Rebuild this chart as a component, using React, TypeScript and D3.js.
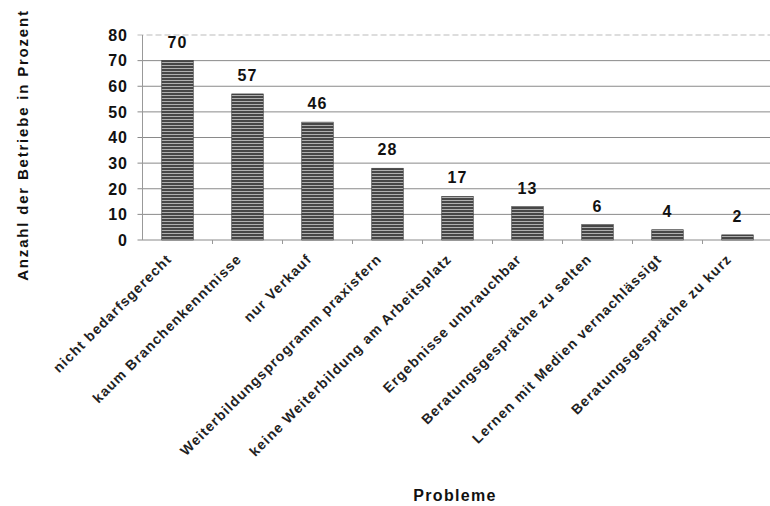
import React from "react";
import * as d3 from "d3";

const categories = [
  "nicht bedarfsgerecht",
  "kaum Branchenkenntnisse",
  "nur Verkauf",
  "Weiterbildungsprogramm praxisfern",
  "keine Weiterbildung am Arbeitsplatz",
  "Ergebnisse unbrauchbar",
  "Beratungsgespräche zu selten",
  "Lernen mit Medien vernachlässigt",
  "Beratungsgespräche zu kurz",
];
const values = [70, 57, 46, 28, 17, 13, 6, 4, 2];
const yTicks = [0, 10, 20, 30, 40, 50, 60, 70, 80];

const W = 770, H = 506;
const left = 142.5, right = 772.5, top = 35, bottom = 240;
const font = "Liberation Sans, Arial, sans-serif";

export default function App() {
  const x = d3.scaleBand<string>().domain(categories).range([left, right]).paddingInner(0.55).paddingOuter(0.275);
  const band = d3.scaleBand<string>().domain(categories).range([left, right]);
  const y = d3.scaleLinear().domain([0, 80]).range([bottom, top]);
  return (
    <svg width={W} height={H} style={{ position: "absolute", left: 0, top: 0, background: "#fff" }}>
      <defs>
        <pattern id="stripes" width="4" height="3" patternUnits="userSpaceOnUse">
          <rect width="4" height="3" fill="#474747" />
          <rect y="2" width="4" height="1" fill="#b0b0b0" />
        </pattern>
      </defs>
      {yTicks.map((t) => (
        <g key={t}>
          <line x1={left - 5} x2={W} y1={y(t)} y2={y(t)} stroke={t === 80 ? "#bbb" : "#8a8a8a"} strokeWidth={1} strokeDasharray={t === 80 ? "6 3" : undefined} />
          <text x={128} y={y(t)} dy="0.36em" textAnchor="end" fontFamily={font} fontWeight="bold" fontSize={16} letterSpacing={1} fill="#111">{t}</text>
        </g>
      ))}
      <line x1={left} x2={left} y1={top} y2={bottom} stroke="#999" />
      {categories.map((c, i) => (
        <g key={c}>
          <rect x={x(c)} y={y(values[i])} width={x.bandwidth()} height={bottom - y(values[i])} fill="url(#stripes)" stroke="#333" strokeWidth={0.6} />
          <text x={x(c)! + x.bandwidth() / 2} y={y(values[i]) - 13} textAnchor="middle" fontFamily={font} fontWeight="bold" fontSize={16} letterSpacing={1} fill="#111">{values[i]}</text>
          <line x1={band(c)! + band.bandwidth()} x2={band(c)! + band.bandwidth()} y1={bottom} y2={bottom + 4} stroke="#999" />
          <text transform={`translate(${x(c)! + x.bandwidth() / 2 - 5},${bottom + 20}) rotate(-45)`} textAnchor="end" fontFamily={font} fontWeight="bold" fontSize={14} letterSpacing={1.1} fill="#222">{c}</text>
        </g>
      ))}
      <text x={455} y={501} textAnchor="middle" fontFamily={font} fontWeight="bold" fontSize={16} letterSpacing={1.3} fill="#111">Probleme</text>
      <text transform={`translate(28,145) rotate(-90)`} textAnchor="middle" fontFamily={font} fontWeight="bold" fontSize={15} letterSpacing={1.8} fill="#111">Anzahl der Betriebe in Prozent</text>
    </svg>
  );
}
